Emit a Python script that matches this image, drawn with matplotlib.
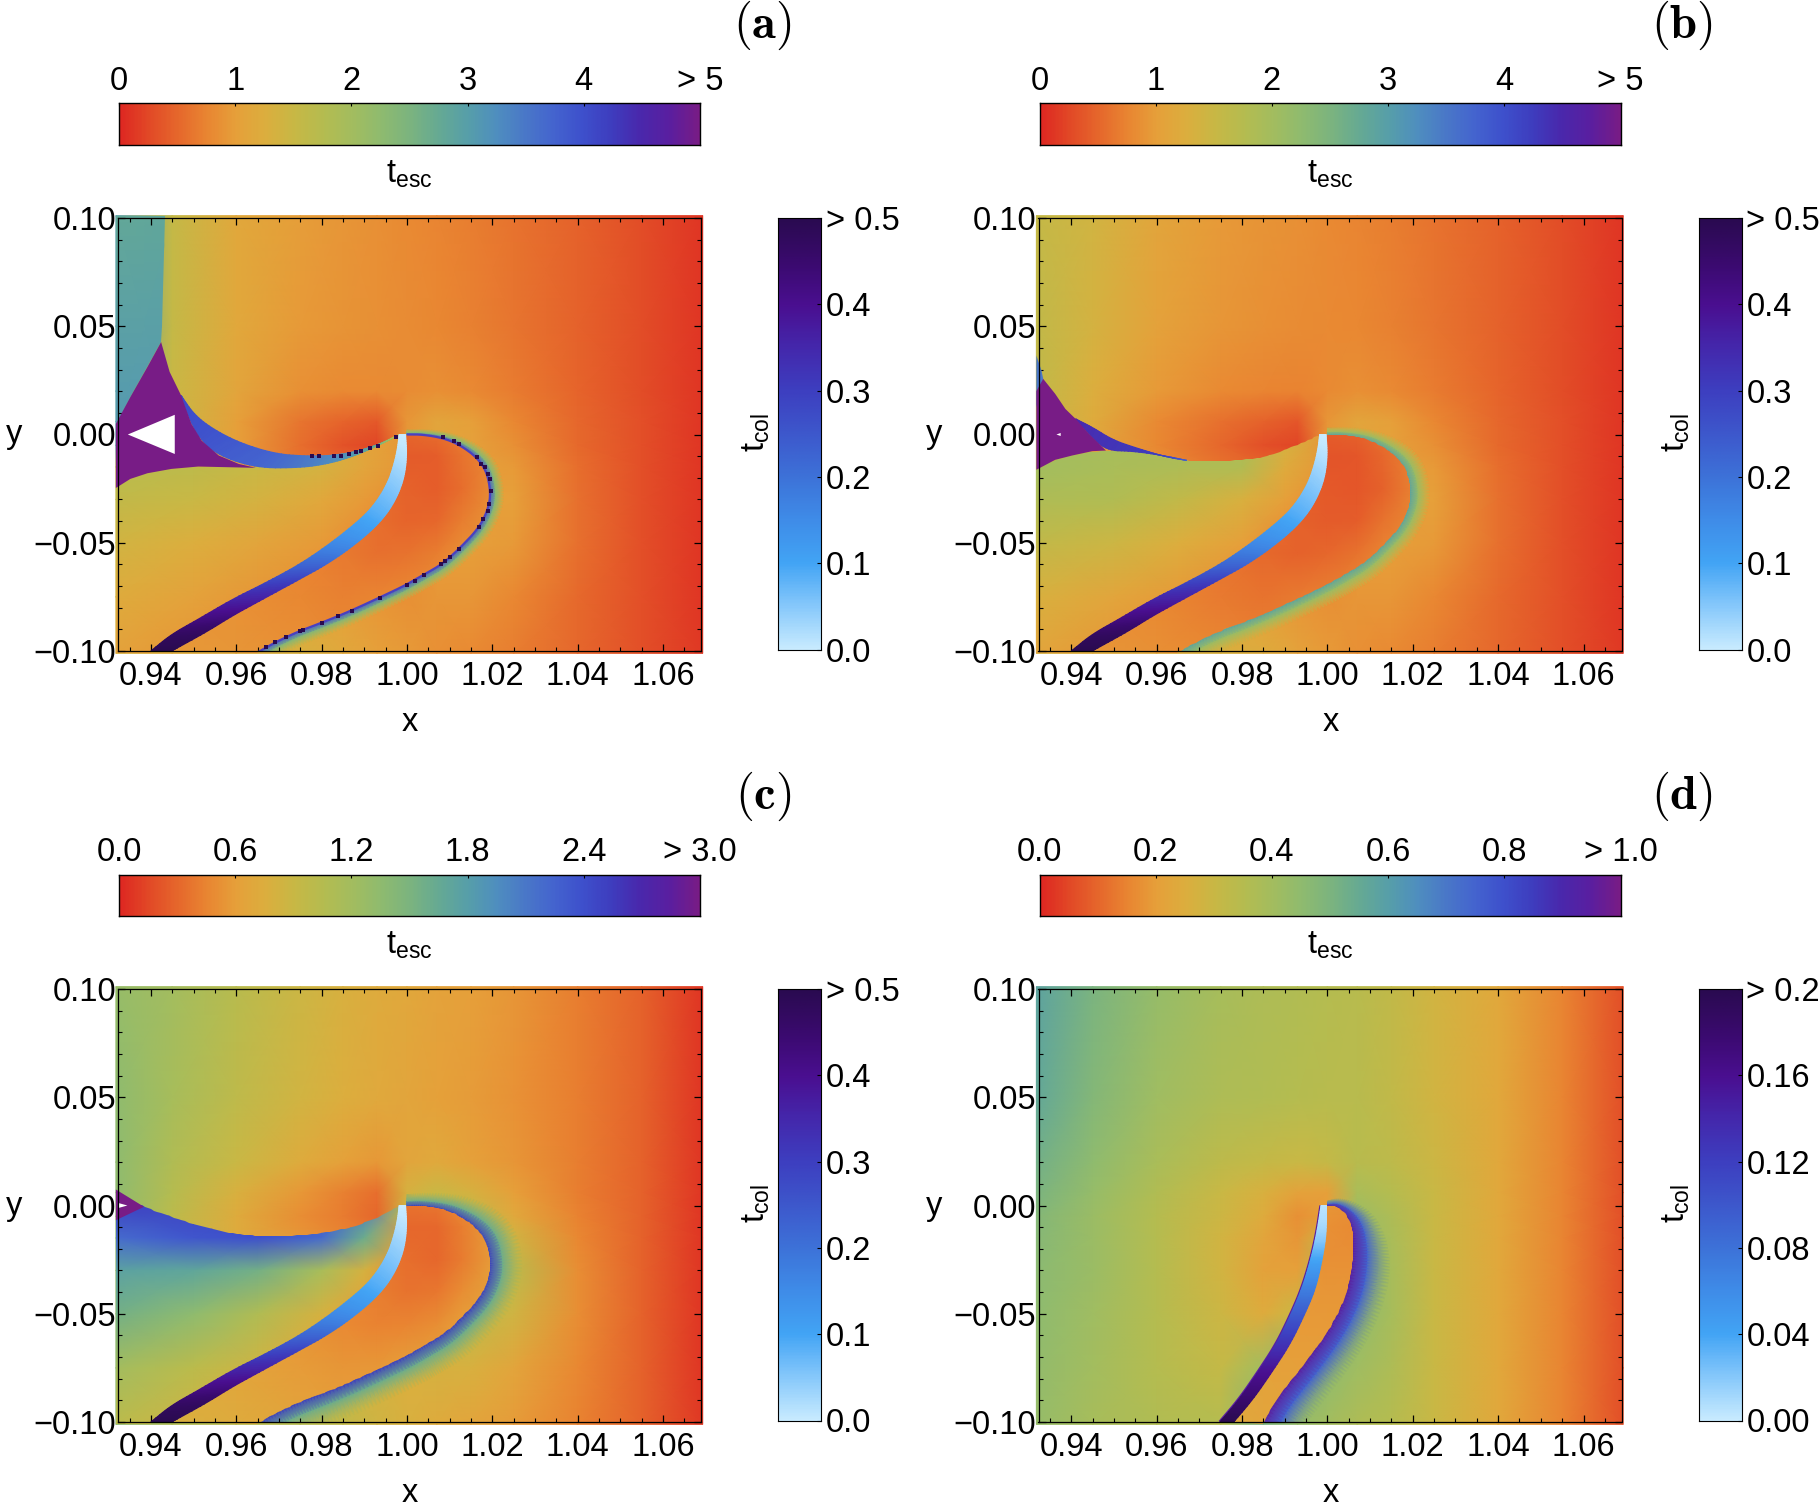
import numpy as np
import matplotlib
matplotlib.use('Agg')
import matplotlib.pyplot as plt
from matplotlib.colors import LinearSegmentedColormap
from matplotlib.patches import Polygon
from matplotlib.ticker import MultipleLocator

plt.rcParams['font.family'] = ['Liberation Sans', 'DejaVu Sans']
plt.rcParams['font.size'] = 23.5
plt.rcParams['mathtext.default'] = 'regular'

W, H = 1820, 1504

# colour scales
ESC_COLORS = ['#de2822', '#e24a27', '#e6682c', '#e98632', '#e6a03a', '#dcae3e', '#c8b845',
              '#b5bc50', '#a3bd5f', '#8fbb6f', '#7cb47f', '#66aa93', '#579fa9', '#4f8fbf',
              '#4a78c8', '#4464cf', '#3e50cc', '#3e3dbe', '#4a28ac', '#5a1fa0', '#781c86']
COL_COLORS = ['#c8ebff', '#86c8fb', '#42a4f5', '#3f8ce8', '#3d72d8', '#3d58cc', '#3d3fc0',
              '#4428ac', '#4a0f90', '#3a0a6e', '#2a0a50']
cmap_esc = LinearSegmentedColormap.from_list('esc', ESC_COLORS)
cmap_col = LinearSegmentedColormap.from_list('col', COL_COLORS)

# grids of the smooth escape time regions
BASE_X = [0.9318, 0.945, 0.96, 0.975, 0.985, 0.993, 1.0, 1.007, 1.015, 1.025, 1.04, 1.055, 1.0693]
BASE_Y = [0.1011, 0.05, 0.02, 0.006, -0.005, -0.015, -0.03, -0.05, -0.075, -0.1011]
LOW_X = [0.9318, 0.95, 0.965, 0.98, 0.99, 1.0]
LOW_Y = [0.0, -0.015, -0.03, -0.05, -0.075, -0.1011]
IN_X = [0.945, 0.96, 0.975, 0.985, 0.993, 1.0, 1.007, 1.013, 1.021]
IN_Y = [0.001, -0.01, -0.025, -0.04, -0.055, -0.075, -0.1011]

A_BASE = [[3.0, 1.55, 1.15, 0.98, 0.9, 0.85, 0.8, 0.75, 0.7, 0.6, 0.45, 0.28, 0.1],
          [3.0, 1.55, 1.15, 0.95, 0.88, 0.85, 0.82, 0.78, 0.72, 0.62, 0.45, 0.28, 0.1],
          [3.0, 1.5, 1.1, 0.85, 0.8, 0.8, 0.82, 0.85, 0.8, 0.68, 0.48, 0.28, 0.1],
          [3.0, 1.5, 1.0, 0.62, 0.48, 0.38, 0.9, 1.1, 1.0, 0.78, 0.5, 0.3, 0.1],
          [3.0, 1.5, 1.0, 0.55, 0.33, 0.22, 0.9, 1.1, 1.05, 0.85, 0.52, 0.3, 0.1],
          [1.6, 1.5, 1.0, 0.6, 0.5, 0.5, 0.9, 1.1, 1.05, 0.95, 0.55, 0.3, 0.1],
          [1.6, 1.5, 1.2, 1.0, 0.9, 0.8, 0.8, 1.0, 1.0, 1.0, 0.58, 0.3, 0.1],
          [1.5, 1.4, 1.2, 1.0, 0.9, 0.8, 0.8, 1.0, 1.0, 0.95, 0.58, 0.3, 0.1],
          [1.4, 1.3, 1.2, 1.1, 1.0, 0.9, 0.85, 0.9, 0.9, 0.78, 0.52, 0.3, 0.1],
          [1.3, 1.2, 1.2, 1.3, 1.15, 1.0, 0.95, 0.85, 0.8, 0.7, 0.5, 0.3, 0.12]]
B_BASE = [[1.55, 1.4, 1.1, 0.95, 0.88, 0.85, 0.8, 0.75, 0.7, 0.6, 0.45, 0.28, 0.1],
          [1.6, 1.35, 1.05, 0.9, 0.85, 0.82, 0.8, 0.78, 0.72, 0.62, 0.45, 0.28, 0.1],
          [1.6, 1.25, 0.95, 0.8, 0.76, 0.74, 0.8, 0.85, 0.8, 0.68, 0.48, 0.28, 0.1],
          [1.6, 1.2, 0.8, 0.58, 0.46, 0.36, 0.9, 1.1, 1.0, 0.78, 0.5, 0.3, 0.1],
          [1.6, 1.1, 0.78, 0.5, 0.3, 0.22, 0.9, 1.1, 1.05, 0.85, 0.52, 0.3, 0.1],
          [1.6, 1.2, 0.85, 0.6, 0.5, 0.5, 0.9, 1.1, 1.05, 0.95, 0.55, 0.3, 0.1],
          [1.6, 1.5, 1.2, 1.0, 0.9, 0.8, 0.8, 1.0, 1.0, 1.0, 0.58, 0.3, 0.1],
          [1.5, 1.4, 1.2, 1.0, 0.9, 0.8, 0.8, 1.0, 1.0, 0.95, 0.58, 0.3, 0.1],
          [1.4, 1.3, 1.2, 1.1, 1.0, 0.9, 0.85, 0.9, 0.9, 0.78, 0.52, 0.3, 0.1],
          [1.3, 1.2, 1.2, 1.3, 1.2, 1.05, 0.95, 0.85, 0.8, 0.7, 0.5, 0.3, 0.12]]
C_BASE = [[1.29, 1.2, 1.02, 0.87, 0.78, 0.72, 0.68, 0.64, 0.6, 0.54, 0.42, 0.27, 0.06],
          [1.35, 1.17, 0.98, 0.84, 0.76, 0.7, 0.66, 0.62, 0.58, 0.52, 0.42, 0.27, 0.06],
          [1.35, 1.1, 0.9, 0.72, 0.62, 0.56, 0.66, 0.7, 0.62, 0.54, 0.42, 0.27, 0.06],
          [1.35, 1.05, 0.78, 0.56, 0.43, 0.33, 0.8, 0.9, 0.8, 0.6, 0.42, 0.27, 0.06],
          [1.35, 1.0, 0.72, 0.5, 0.4, 0.3, 0.9, 1.1, 1.0, 0.7, 0.44, 0.27, 0.06],
          [1.35, 1.0, 0.72, 0.55, 0.45, 0.4, 0.9, 1.1, 1.1, 0.85, 0.46, 0.27, 0.06],
          [1.35, 1.1, 0.9, 0.8, 0.7, 0.6, 0.7, 1.0, 1.1, 1.0, 0.5, 0.27, 0.06],
          [1.35, 1.1, 0.9, 0.8, 0.7, 0.6, 0.7, 1.0, 1.0, 0.85, 0.5, 0.27, 0.06],
          [1.35, 1.1, 0.95, 0.9, 0.85, 0.8, 0.75, 0.8, 0.78, 0.66, 0.46, 0.27, 0.06],
          [1.35, 1.1, 1.0, 1.05, 0.95, 0.85, 0.78, 0.72, 0.66, 0.58, 0.44, 0.27, 0.08]]
D_BASE = [[0.58, 0.5, 0.43, 0.39, 0.37, 0.36, 0.35, 0.34, 0.32, 0.28, 0.23, 0.15, 0.06],
          [0.56, 0.48, 0.41, 0.37, 0.36, 0.35, 0.34, 0.34, 0.32, 0.28, 0.23, 0.15, 0.06],
          [0.52, 0.45, 0.38, 0.33, 0.31, 0.3, 0.31, 0.34, 0.33, 0.29, 0.23, 0.15, 0.06],
          [0.5, 0.43, 0.36, 0.3, 0.26, 0.21, 0.2, 0.38, 0.35, 0.3, 0.23, 0.15, 0.06],
          [0.48, 0.42, 0.35, 0.29, 0.24, 0.17, 0.2, 0.42, 0.37, 0.3, 0.23, 0.15, 0.06],
          [0.47, 0.42, 0.35, 0.28, 0.22, 0.18, 0.3, 0.45, 0.38, 0.3, 0.23, 0.15, 0.06],
          [0.46, 0.42, 0.35, 0.28, 0.21, 0.2, 0.4, 0.47, 0.39, 0.3, 0.23, 0.15, 0.06],
          [0.45, 0.41, 0.35, 0.29, 0.24, 0.3, 0.48, 0.45, 0.39, 0.3, 0.23, 0.15, 0.06],
          [0.44, 0.4, 0.35, 0.31, 0.4, 0.5, 0.45, 0.41, 0.37, 0.3, 0.23, 0.15, 0.06],
          [0.43, 0.39, 0.36, 0.35, 0.5, 0.43, 0.4, 0.37, 0.35, 0.3, 0.23, 0.15, 0.06]]

A_LOW = [[1.7, 1.65, 1.5, 1.35, 1.1, 0.9], [1.7, 1.65, 1.5, 1.35, 1.1, 0.9],
         [1.6, 1.5, 1.35, 1.15, 0.95, 0.8], [1.4, 1.25, 1.1, 0.95, 0.8, 0.7],
         [1.2, 1.05, 0.9, 0.8, 0.7, 0.6], [1.05, 0.9, 0.8, 0.7, 0.6, 0.6]]
B_LOW = [[2.0, 1.95, 1.9, 1.9, 1.4, 0.9], [2.0, 1.9, 1.85, 1.8, 1.2, 0.9],
         [1.85, 1.8, 1.6, 1.3, 1.0, 0.8], [1.6, 1.45, 1.25, 1.0, 0.8, 0.7],
         [1.3, 1.1, 0.95, 0.8, 0.7, 0.6], [1.1, 0.9, 0.8, 0.7, 0.6, 0.6]]
C_LOW = [[2.5, 2.5, 2.5, 2.4, 2.1, 1.0], [2.2, 2.35, 2.4, 2.2, 1.6, 0.6],
         [1.75, 1.7, 1.55, 1.15, 0.8, 0.5], [1.55, 1.35, 1.1, 0.8, 0.6, 0.45],
         [1.2, 1.0, 0.85, 0.6, 0.5, 0.45], [1.0, 0.85, 0.65, 0.45, 0.45, 0.4]]

A_IN = [[0.8, 0.8, 0.8, 0.8, 0.7, 0.5, 0.55, 0.7, 0.8],
        [0.8, 0.8, 0.8, 0.75, 0.6, 0.4, 0.42, 0.6, 0.8],
        [0.8, 0.8, 0.8, 0.7, 0.55, 0.45, 0.42, 0.55, 0.85],
        [0.85, 0.8, 0.75, 0.68, 0.55, 0.48, 0.5, 0.7, 0.9],
        [0.9, 0.85, 0.75, 0.65, 0.58, 0.6, 0.7, 0.85, 0.9],
        [0.9, 0.85, 0.78, 0.72, 0.75, 0.8, 0.85, 0.9, 0.9],
        [0.95, 0.9, 0.85, 0.8, 0.8, 0.85, 0.9, 0.9, 0.9]]
B_IN = [[0.75, 0.75, 0.75, 0.72, 0.6, 0.42, 0.45, 0.6, 0.75],
        [0.75, 0.75, 0.72, 0.65, 0.5, 0.35, 0.36, 0.5, 0.75],
        [0.75, 0.72, 0.68, 0.6, 0.45, 0.38, 0.36, 0.45, 0.75],
        [0.8, 0.72, 0.65, 0.55, 0.45, 0.4, 0.42, 0.6, 0.8],
        [0.82, 0.75, 0.62, 0.52, 0.46, 0.5, 0.6, 0.75, 0.85],
        [0.85, 0.78, 0.66, 0.6, 0.65, 0.72, 0.8, 0.85, 0.85],
        [0.9, 0.85, 0.78, 0.75, 0.78, 0.8, 0.85, 0.85, 0.85]]
C_IN = [[0.62, 0.62, 0.6, 0.55, 0.5, 0.36, 0.38, 0.5, 0.6],
        [0.62, 0.6, 0.58, 0.5, 0.42, 0.3, 0.3, 0.42, 0.6],
        [0.62, 0.6, 0.56, 0.48, 0.4, 0.33, 0.3, 0.4, 0.6],
        [0.65, 0.6, 0.55, 0.48, 0.42, 0.36, 0.38, 0.5, 0.65],
        [0.68, 0.62, 0.55, 0.48, 0.44, 0.45, 0.5, 0.6, 0.7],
        [0.72, 0.66, 0.58, 0.55, 0.56, 0.6, 0.65, 0.7, 0.7],
        [0.78, 0.72, 0.65, 0.62, 0.62, 0.65, 0.7, 0.7, 0.7]]
D_IN = [[0.22, 0.22, 0.22, 0.22, 0.2, 0.18, 0.17, 0.18, 0.2],
        [0.22, 0.22, 0.22, 0.22, 0.19, 0.17, 0.16, 0.17, 0.2],
        [0.22, 0.22, 0.22, 0.2, 0.19, 0.17, 0.17, 0.18, 0.2],
        [0.22, 0.22, 0.22, 0.2, 0.19, 0.18, 0.18, 0.19, 0.2],
        [0.23, 0.23, 0.22, 0.2, 0.19, 0.19, 0.19, 0.2, 0.2],
        [0.23, 0.23, 0.22, 0.21, 0.2, 0.2, 0.21, 0.21, 0.21],
        [0.24, 0.24, 0.24, 0.22, 0.22, 0.22, 0.22, 0.22, 0.22]]

# curve on the outer side of the lobe, from the primary to the bottom edge
LOOP_X = [1.0, 1.0035, 1.00825, 1.0122, 1.0162, 1.0186, 1.0196, 1.0192, 1.017, 1.0122, 1.00825,
          1.0039, 0.9999, 0.9936, 0.9868, 0.9801, 0.9749, 0.9694, 0.9646]
LOOP_Y = [0.0, 0.0, -0.0015, -0.0046, -0.0102, -0.0167, -0.0259, -0.0336, -0.0429, -0.0529, -0.0599,
          -0.0648, -0.0694, -0.0753, -0.0815, -0.0869, -0.0907, -0.0957, -0.1011]
LOOP_W = [0.35, 0.4, 0.5, 0.65, 0.85, 1, 1, 1, 1, 1, 1, 1, 1, 1, 1, 1, 1, 1, 1]
D_LOOP_X = [1.0, 1.00205, 1.0042, 1.0058, 1.0062, 1.0058, 1.0048, 1.0026, 0.9999, 0.9966, 0.9923, 0.988, 0.9848]
D_LOOP_Y = [0.0, -0.0003, -0.0034, -0.0095, -0.0188, -0.028, -0.0388, -0.0495, -0.0588, -0.068, -0.0788, -0.0895, -0.1011]
D_LOOP_W = [0.12, 0.22, 0.4, 0.7, 0.9, 1, 1, 1, 1, 1, 1, 1, 1]

# collision band, edges and collision time along it
BAND_LX = [0.99817, 0.99778, 0.99698, 0.99571, 0.99357, 0.99079, 0.98683, 0.98127, 0.97492, 0.96698, 0.95905, 0.95111, 0.94476, 0.94]
BAND_LY = [0.0, -0.00664, -0.01358, -0.0213, -0.029, -0.036, -0.0429, -0.0514, -0.0599, -0.0684, -0.0761, -0.0853, -0.0923, -0.1]
BAND_RX = [0.99968, 1.0, 0.99952, 0.99833, 0.99635, 0.99397, 0.99079, 0.98643, 0.98127, 0.97492, 0.96698, 0.95905, 0.9535, 0.94492]
BAND_RY = [0.0, -0.00895, -0.0182, -0.0259, -0.0336, -0.0398, -0.046, -0.0529, -0.0599, -0.0668, -0.0753, -0.0838, -0.0907, -0.1]
BAND_T = [0.0, 0.01, 0.03, 0.05, 0.07, 0.09, 0.12, 0.16, 0.22, 0.29, 0.36, 0.42, 0.47, 0.5]
D_BAND_LX = [0.99849, 0.99751, 0.99611, 0.99395, 0.99124, 0.98800, 0.98368, 0.97935, 0.97481]
D_BAND_RX = [0.99978, 0.99978, 0.99881, 0.99719, 0.99449, 0.99124, 0.98692, 0.98259, 0.97805]
D_BAND_Y = [0.0, -0.0126, -0.0249, -0.0388, -0.0511, -0.0642, -0.0772, -0.0895, -0.1]
D_BAND_T = [0.004, 0.012, 0.04, 0.07, 0.1, 0.13, 0.16, 0.18, 0.2]

# boundaries of the upper region
A_LOW_X = [0.9318, 0.9352, 0.9392, 0.9448, 0.9511, 0.9606, 0.9749, 0.9813, 0.9868, 0.9924, 0.9982]
A_LOW_Y = [-0.0247, -0.0205, -0.0179, -0.0159, -0.0148, -0.0151, -0.0154, -0.0136, -0.0105, -0.0059, 0.0]
B_LOW_X = [0.9318, 0.9362, 0.9402, 0.9449, 0.9544, 0.9616, 0.9671, 0.9703, 0.979, 0.9854, 0.9917, 0.9985]
B_LOW_Y = [-0.0163, -0.0117, -0.0097, -0.0077, -0.0077, -0.0097, -0.012, -0.0125, -0.012, -0.0105, -0.0058, 0.0]
C_TOP_X = [0.9318, 0.9384, 0.944, 0.9511, 0.959, 0.9654, 0.9765, 0.9844, 0.9908, 0.9956, 0.9983]
C_TOP_Y = [0.0074, -0.0006, -0.0046, -0.0095, -0.0129, -0.0142, -0.0138, -0.0114, -0.0077, -0.0031, 0.0]

# purple triangle (time above the scale) and the white hole inside it
A_PURPLE_X = [0.9318, 0.9352, 0.9392, 0.9424, 0.9444, 0.9471, 0.9495, 0.9519, 0.9559, 0.9606, 0.9646, 0.9511, 0.9448, 0.9392, 0.9352, 0.9318]
A_PURPLE_Y = [0.0049, 0.0173, 0.0312, 0.0427, 0.0289, 0.018, 0.0049, -0.0028, -0.0097, -0.0136, -0.0154, -0.0148, -0.0159, -0.0179, -0.0205, -0.0247]
A_HOLE_X = [0.9346, 0.9456, 0.9456]
A_HOLE_Y = [0.0, 0.0091, -0.009]
B_PURPLE_X = [0.9318, 0.9318, 0.9334, 0.9362, 0.9386, 0.941, 0.9441, 0.9481, 0.9449, 0.9402, 0.9362, 0.9318]
B_PURPLE_Y = [0.0126, 0.02, 0.0257, 0.0188, 0.0118, 0.0072, 0.0003, -0.0074, -0.0077, -0.0097, -0.0117, -0.0163]
B_HOLE_X = [0.9365, 0.9375, 0.9375]
B_HOLE_Y = [0.0, 0.0007, -0.0007]
C_PURPLE_X = [0.9318, 0.9384, 0.9318]
C_PURPLE_Y = [0.0074, -0.0006, -0.0068]
C_HOLE_X = [0.9323, 0.9345, 0.9323]
C_HOLE_Y = [0.0012, 0.0, -0.0012]

# teal wedge top left in (a), blue sliver in (b)
A_WEDGE_X = [0.9318, 0.9433, 0.9426, 0.9424, 0.9392, 0.9352, 0.9318]
A_WEDGE_Y = [0.1011, 0.1011, 0.05, 0.0427, 0.0312, 0.0173, 0.0049]
A_WEDGE_V = [[2.8, 2.85], [3.1, 3.1]]
B_WEDGE_X = [0.9318, 0.933, 0.9334, 0.9318]
B_WEDGE_Y = [0.0365, 0.0295, 0.0257, 0.0126]
B_WEDGE_VAL = 3.5

# blue strip between upper curve and lower region
A_STRIP_TX = [0.9471, 0.9503, 0.9551, 0.9614, 0.9694, 0.9765, 0.9829, 0.9892, 0.9948, 0.9982]
A_STRIP_TY = [0.018, 0.0088, 0.00185, -0.0043, -0.009, -0.01, -0.0097, -0.0074, -0.0035, 0.0]
A_STRIP_BX = [0.9471, 0.9495, 0.9519, 0.9559, 0.9646, 0.9749, 0.9813, 0.9868, 0.9924, 0.9982]
A_STRIP_BY = [0.018, 0.0049, -0.0028, -0.0097, -0.0154, -0.0154, -0.0136, -0.0105, -0.0059, 0.0]
A_STRIP_V = [4.1, 4.0, 3.95, 3.85, 3.75, 3.5, 3.3, 3.1, 2.7, 1.5]
B_STRIP_TX = [0.941, 0.9449, 0.9497, 0.9552, 0.9624, 0.9671]
B_STRIP_TY = [0.0072, 0.0034, -0.0025, -0.0062, -0.0105, -0.012]
B_STRIP_BX = [0.941, 0.9441, 0.9481, 0.9544, 0.9616, 0.9671]
B_STRIP_BY = [0.0072, 0.0003, -0.0074, -0.0077, -0.0097, -0.012]
B_STRIP_V = [4.5, 4.4, 4.35, 4.3, 4.2, 3.8]

# single dots with collision time above the scale in (a)
A_DOT_X = [0.9778, 0.9795, 0.983, 0.9845, 0.9864, 0.988, 0.9892, 0.9914, 0.9932, 0.9975, 1.0084, 1.0111, 1.0122,
           1.0163, 1.0174, 1.0182, 1.019, 1.0194, 1.0196, 1.0192, 1.019, 1.0179, 1.0168, 1.0122, 1.0102, 1.009,
           1.0079, 1.0039, 1.0019, 0.9999, 0.9936, 0.9871, 0.9839, 0.9801, 0.9757, 0.9749, 0.9717, 0.9692, 0.967]
A_DOT_Y = [-0.0097, -0.0097, -0.0097, -0.0097, -0.009, -0.0083, -0.0077, -0.0063, -0.0051, -0.0012, -0.0012, -0.0031, -0.0046,
           -0.0102, -0.0136, -0.0151, -0.0182, -0.0205, -0.0262, -0.0321, -0.0352, -0.039, -0.0429, -0.0529, -0.0568, -0.0583,
           -0.0599, -0.0648, -0.0676, -0.0694, -0.0753, -0.0815, -0.0838, -0.0869, -0.0904, -0.0907, -0.0934, -0.0957, -0.098]

# rim on the outer side of the lobe: values at curve, middle, fade out
A_RIM = [3.9, 2.4, 1.5]
B_RIM = [2.9, 2.1, 1.4]
C_RIM = [2.55, 1.6, 0.95]
D_RIM = [0.95, 0.75, 0.42]

# tick labels
ESC_TICKS = {'a': [0, 1, 2, 3, 4, 5], 'b': [0, 1, 2, 3, 4, 5],
             'c': [0, 0.6, 1.2, 1.8, 2.4, 3.0], 'd': [0, 0.2, 0.4, 0.6, 0.8, 1.0]}
ESC_LABELS = {'a': ['0', '1', '2', '3', '4', '> 5'], 'b': ['0', '1', '2', '3', '4', '> 5'],
              'c': ['0.0', '0.6', '1.2', '1.8', '2.4', '> 3.0'], 'd': ['0.0', '0.2', '0.4', '0.6', '0.8', '> 1.0']}
COL_TICKS = {'a': [0, 0.1, 0.2, 0.3, 0.4, 0.5], 'b': [0, 0.1, 0.2, 0.3, 0.4, 0.5],
             'c': [0, 0.1, 0.2, 0.3, 0.4, 0.5], 'd': [0, 0.04, 0.08, 0.12, 0.16, 0.2]}
COL_LABELS = {'a': ['0.0', '0.1', '0.2', '0.3', '0.4', '> 0.5'], 'b': ['0.0', '0.1', '0.2', '0.3', '0.4', '> 0.5'],
              'c': ['0.0', '0.1', '0.2', '0.3', '0.4', '> 0.5'], 'd': ['0.00', '0.04', '0.08', '0.12', '0.16', '> 0.20']}
X_TICKS = [0.94, 0.96, 0.98, 1.00, 1.02, 1.04, 1.06]
Y_TICKS = [-0.10, -0.05, 0.0, 0.05, 0.10]

DX, DY = 920.5, 771


def px_axes(x0, y0, x1, y1):
    return fig.add_axes([x0 / W, 1 - y1 / H, (x1 - x0) / W, (y1 - y0) / H])


def soft(*lines):
    # corner cutting so the read polylines do not draw as polygons
    out = []
    for line in lines:
        p = np.array(line, dtype=float)
        for _ in range(3):
            q = 0.75 * p[:-1] + 0.25 * p[1:]
            r = 0.25 * p[:-1] + 0.75 * p[1:]
            mid = np.column_stack([q, r]).ravel()
            p = np.concatenate([p[:1], mid, p[-1:]])
        out.append(p)
    return out


def smooth(ax, xs, ys, vals, vmax, clip=None):
    m = ax.pcolormesh(xs, ys, np.array(vals, dtype=float), cmap=cmap_esc, vmin=0, vmax=vmax,
                      shading='gouraud', zorder=2)
    if clip is None:
        m.set_clip_on(False)
    else:
        patch = Polygon(np.column_stack(clip), closed=True, transform=ax.transData)
        m.set_clip_path(patch)
        m.set_clip_box(None)
    return m


def rim(ax, cx, cy, weights, vals, width, vmax):
    # fades from the curve outwards, a y data unit is about half an x unit on screen
    cx, cy, weights = soft(cx, cy, weights)
    tx = np.gradient(cx)
    ty = np.gradient(cy) * 0.512
    n = np.hypot(tx, ty) + 1e-12
    nx, ny = -ty / n, tx / n
    rows_x, rows_y, rows_v, rows_a = [], [], [], []
    for f, v, a in zip([0.0, 0.4, 1.0], vals, [1.0, 1.0, 0.0]):
        rows_x.append(cx + f * width * weights * nx)
        rows_y.append(cy + f * width * weights * ny / 0.512)
        rows_v.append(np.full(len(cx), v))
        rows_a.append(np.full(len(cx), a))
    return ax.pcolormesh(np.array(rows_x), np.array(rows_y), np.array(rows_v), cmap=cmap_esc, vmin=0,
                         vmax=vmax, shading='gouraud', alpha=np.array(rows_a), zorder=2)


def strip(ax, tx, ty, bx, by, v, vmax, cmap=cmap_esc, zorder=3):
    tx, ty, bx, by, v = soft(tx, ty, bx, by, v)
    m = ax.pcolormesh(np.array([tx, bx]), np.array([ty, by]), np.array([v, v]), cmap=cmap, vmin=0,
                      vmax=vmax, shading='gouraud', zorder=zorder)
    return m


def region(upper_x, upper_y, lower_x, lower_y, end_x=(), end_y=()):
    ux, uy = soft(upper_x, upper_y)
    lx, ly = soft(lower_x, lower_y)
    return (list(ux) + list(lx) + list(end_x), list(uy) + list(ly) + list(end_y))


def frame(ax):
    ax.set_xlim(0.9323, 1.0689)
    ax.set_ylim(-0.1, 0.1)
    ax.set_xticks(X_TICKS, [f'{t:.2f}' for t in X_TICKS])
    ax.set_yticks(Y_TICKS, [f'{t:.2f}'.replace('-', '\u2212') for t in Y_TICKS])
    ax.xaxis.set_minor_locator(MultipleLocator(0.005))
    ax.yaxis.set_minor_locator(MultipleLocator(0.01))
    ax.tick_params(which='major', direction='in', top=True, right=True, length=5, width=0.9, labelsize=23.5)
    ax.tick_params(axis='x', which='major', pad=7)
    ax.tick_params(axis='y', which='major', pad=1.5)
    ax.tick_params(which='minor', direction='in', top=True, right=True, length=2.8, width=0.8)
    for s in ax.spines.values():
        s.set_linewidth(0.9)
        s.set_zorder(6)
    ax.set_axisbelow(False)


def bars(key, dx, dy):
    ce = px_axes(119 + dx, 103.5 + dy, 700 + dx, 145 + dy)
    ce.imshow(np.linspace(0, 1, 400)[None, :], aspect='auto', cmap=cmap_esc, extent=[0, ESC_TICKS[key][-1], 0, 1])
    ce.set_xticks(ESC_TICKS[key], ESC_LABELS[key])
    ce.set_yticks([])
    ce.tick_params(axis='x', direction='in', bottom=False, top=True, labelbottom=False, labeltop=True,
                   length=2.5, width=0.8, pad=5, labelsize=23.5)
    for s in ce.spines.values():
        s.set_linewidth(1.0)
    fig.text((409.5 + dx) / W, 1 - (174 + dy) / H, r'$t_{esc}$', ha='center', va='center', fontsize=23.5)

    cc = px_axes(778 + dx, 218 + dy, 821 + dx, 649.5 + dy)
    cc.imshow(np.linspace(1, 0, 400)[:, None], aspect='auto', cmap=cmap_col, extent=[0, 1, 0, COL_TICKS[key][-1]])
    cc.yaxis.tick_right()
    cc.set_yticks(COL_TICKS[key], COL_LABELS[key])
    cc.set_xticks([])
    cc.tick_params(axis='y', direction='in', length=3, width=0.8, pad=3.5, labelsize=23.5)
    for s in cc.spines.values():
        s.set_linewidth(0.8)
    fig.text((756 + dx) / W, 1 - (432.5 + dy) / H, r'$t_{col}$', rotation=90, ha='center', va='center', fontsize=23.5)

    fig.text((410 + dx) / W, 1 - (722 + dy) / H, 'x', ha='center', va='center', fontsize=23.5)
    fig.text((14 + dx) / W, 1 - (435 + dy) / H, 'y', ha='center', va='center', fontsize=23.5)
    fig.text((792 + dx) / W, 1 - (25.5 + dy) / H, r'$\mathbf{(' + key + r')}$', ha='right', va='center',
             fontsize=35, math_fontfamily='cm')


fig = plt.figure(figsize=(W / 100, H / 100), dpi=100)

in_poly = region(BAND_RX, BAND_RY, LOOP_X[::-1], LOOP_Y[::-1])

# panel (a)
ax = px_axes(118, 218, 701, 651)
smooth(ax, BASE_X, BASE_Y, A_BASE, 5)
rim(ax, LOOP_X, LOOP_Y, LOOP_W, A_RIM, 0.0032, 5)
smooth(ax, BASE_X[:2], [0.1011, 0.0], A_WEDGE_V, 5, clip=(A_WEDGE_X, A_WEDGE_Y))
smooth(ax, LOW_X, LOW_Y, A_LOW, 5, clip=region(A_LOW_X, A_LOW_Y, BAND_LX, BAND_LY, [0.94, 0.9318], [-0.1011, -0.1011]))
smooth(ax, IN_X, IN_Y, A_IN, 5, clip=in_poly)
strip(ax, A_STRIP_TX, A_STRIP_TY, A_STRIP_BX, A_STRIP_BY, A_STRIP_V, 5)
ax.fill(A_PURPLE_X, A_PURPLE_Y, color='#781c86', lw=0, zorder=4, clip_on=False)
ax.fill(A_HOLE_X, A_HOLE_Y, color='white', lw=0, zorder=5)
strip(ax, BAND_LX, BAND_LY, BAND_RX, BAND_RY, BAND_T, 0.5, cmap=cmap_col, zorder=4)
ax.plot(*soft(LOOP_X, LOOP_Y), color='#4a40c0', lw=1.6, zorder=4, solid_capstyle='butt')
ax.scatter(A_DOT_X, A_DOT_Y, marker='s', s=9, color='#2a0a50', linewidths=0, zorder=5)
frame(ax)
bars('a', 0, 0)

# panel (b)
ax = px_axes(118 + DX, 218, 701 + DX, 651)
smooth(ax, BASE_X, BASE_Y, B_BASE, 5)
rim(ax, LOOP_X, LOOP_Y, LOOP_W, B_RIM, 0.0045, 5)
smooth(ax, LOW_X, LOW_Y, B_LOW, 5, clip=region(B_LOW_X, B_LOW_Y, BAND_LX, BAND_LY, [0.94, 0.9318], [-0.1011, -0.1011]))
smooth(ax, IN_X, IN_Y, B_IN, 5, clip=in_poly)
ax.fill(B_WEDGE_X, B_WEDGE_Y, color=cmap_esc(B_WEDGE_VAL / 5), lw=0, zorder=4, clip_on=False)
ax.fill(B_PURPLE_X, B_PURPLE_Y, color='#781c86', lw=0, zorder=4, clip_on=False)
strip(ax, B_STRIP_TX, B_STRIP_TY, B_STRIP_BX, B_STRIP_BY, B_STRIP_V, 5)
ax.fill(B_HOLE_X, B_HOLE_Y, color='white', lw=0, zorder=5)
strip(ax, BAND_LX, BAND_LY, BAND_RX, BAND_RY, BAND_T, 0.5, cmap=cmap_col, zorder=4)
frame(ax)
bars('b', DX, 0)

# panel (c)
ax = px_axes(118, 218 + DY, 701, 651 + DY)
smooth(ax, BASE_X, BASE_Y, C_BASE, 3)
rim(ax, LOOP_X, LOOP_Y, LOOP_W, C_RIM, 0.0075, 3)
smooth(ax, LOW_X, LOW_Y, C_LOW, 3, clip=region(C_TOP_X, C_TOP_Y, BAND_LX, BAND_LY, [0.94, 0.9318], [-0.1011, -0.1011]))
smooth(ax, IN_X, IN_Y, C_IN, 3, clip=in_poly)
ax.fill(C_PURPLE_X, C_PURPLE_Y, color='#781c86', lw=0, zorder=4, clip_on=False)
ax.fill(C_HOLE_X, C_HOLE_Y, color='white', lw=0, zorder=5)
strip(ax, BAND_LX, BAND_LY, BAND_RX, BAND_RY, BAND_T, 0.5, cmap=cmap_col, zorder=4)
frame(ax)
bars('c', 0, DY)

# panel (d)
ax = px_axes(118 + DX, 218 + DY, 701 + DX, 651 + DY)
smooth(ax, BASE_X, BASE_Y, D_BASE, 1)
rim(ax, D_LOOP_X, D_LOOP_Y, D_LOOP_W, D_RIM, 0.009, 1)
smooth(ax, IN_X, IN_Y, D_IN, 1, clip=region(D_BAND_RX, D_BAND_Y, D_LOOP_X[::-1], D_LOOP_Y[::-1]))
ax.plot(*soft(D_BAND_LX, D_BAND_Y), color='#5a1fa0', lw=2.4, zorder=4, solid_capstyle='butt')
strip(ax, D_BAND_LX, D_BAND_Y, D_BAND_RX, D_BAND_Y, D_BAND_T, 0.2, cmap=cmap_col, zorder=4)
frame(ax)
bars('d', DX, DY)

fig.savefig('out.png', dpi=100)
